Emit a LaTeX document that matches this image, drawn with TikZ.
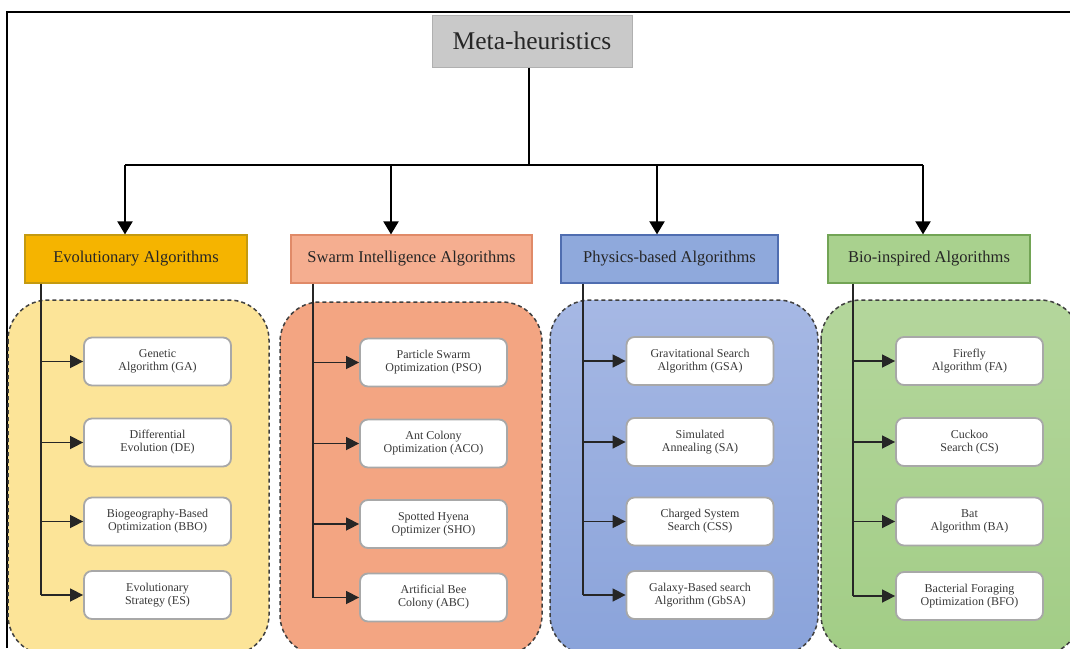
\documentclass[tikz,border=0pt]{standalone}
\usepackage{fontspec}
\setmainfont{Liberation Serif}
\usetikzlibrary{arrows.meta}
\definecolor{evofill}{HTML}{F5B400}
\definecolor{evodraw}{HTML}{C49A10}
\definecolor{evoreg}{HTML}{FCE498}
\definecolor{swfill}{HTML}{F5AE90}
\definecolor{swdraw}{HTML}{E08A68}
\definecolor{swreg}{HTML}{F3A582}
\definecolor{phfill}{HTML}{8FA9DC}
\definecolor{phdraw}{HTML}{4F6DB0}
\definecolor{phregtop}{HTML}{A6B8E4}
\definecolor{phregbot}{HTML}{8AA3DA}
\definecolor{biofill}{HTML}{A9D18E}
\definecolor{biodraw}{HTML}{72A455}
\definecolor{bioregtop}{HTML}{B4D69C}
\definecolor{bioregbot}{HTML}{A2CD86}
\definecolor{metafill}{HTML}{C9C9C9}
\definecolor{metadraw}{HTML}{B0B0B0}
\definecolor{childdraw}{HTML}{A8A8A8}
\tikzset{
  metabox/.style={draw=metadraw, fill=metafill, line width=1pt, inner sep=0pt,
    minimum width=200pt, minimum height=52pt, font=\fontsize{25.5}{27}\selectfont, text=black!85},
  catbox/.style={line width=1.2pt, inner sep=0pt, minimum height=48pt,
    font=\fontsize{16.5}{18}\selectfont, text=black!85},
  childbox/.style={draw=childdraw, fill=white, line width=1.8pt, rounded corners=8pt,
    inner sep=0pt, minimum width=147pt, minimum height=48pt, align=center,
    font=\fontsize{12}{13}\selectfont, text=black!78},
  region/.style={draw=black!75, dash pattern=on 4pt off 3pt, line width=1.5pt, rounded corners=40pt},
  trunk/.style={draw=black!85, line width=1.5pt},
  harrow/.style={draw=black!85, line width=1.5pt, -{Triangle[length=13pt,width=13pt]}},
  darrow/.style={draw=black, line width=2pt, -{Triangle[length=13pt,width=15pt]}},
  busline/.style={draw=black, line width=2.4pt},
  frameline/.style={draw=black, line width=1.3pt}
}
\begin{document}
\begin{tikzpicture}[x=1pt,y=-1pt]
\useasboundingbox (0,0) rectangle (1070,648);
\fill[white] (0,0) rectangle (1070,648);
% frame
\coordinate (fbl) at (7,648);
\coordinate (ftl) at (7,12);
\coordinate (ftr) at (1070,12);
\draw[frameline] (fbl) -- (ftl) -- (ftr);
% regions
\begin{scope}
\clip (0,0) rectangle (1070,648);
\draw[region, fill=evoreg] (8,300) rectangle (269,655);
\draw[region, fill=swreg] (280,302) rectangle (542,655);
\draw[region, top color=phregtop, bottom color=phregbot] (550,300) rectangle (818,655);
\draw[region, top color=bioregtop, bottom color=bioregbot] (821,300) rectangle (1080,655);
\end{scope}
% top
\node[metabox] (meta) at (532,41) {Meta-heuristics};
% categories
\node[catbox, draw=evodraw, fill=evofill, minimum width=222pt] (evo) at (136,259) {Evolutionary Algorithms};
\node[catbox, draw=swdraw, fill=swfill, minimum width=241pt] (swa) at (411.5,259) {Swarm Intelligence Algorithms};
\node[catbox, draw=phdraw, fill=phfill, minimum width=217pt] (phy) at (669.5,259) {Physics-based Algorithms};
\node[catbox, draw=biodraw, fill=biofill, minimum width=202pt] (bio) at (929,259) {Bio-inspired Algorithms};
% bus
\coordinate (hub) at (529,165);
\coordinate (a1) at (125,165);
\coordinate (a2) at (391,165);
\coordinate (a3) at (657,165);
\coordinate (a4) at (923,165);
\draw[busline] (meta.south -| hub) -- (hub);
\draw[busline] (a1) -- (a4);
\draw[darrow] (a1) -- (a1 |- evo.north);
\draw[darrow] (a2) -- (a2 |- swa.north);
\draw[darrow] (a3) -- (a3 |- phy.north);
\draw[darrow] (a4) -- (a4 |- bio.north);
% children column 1
\node[childbox] (e1) at (157.5,361.5) {Genetic\\Algorithm (GA)};
\node[childbox] (e2) at (157.5,442.5) {Differential\\Evolution (DE)};
\node[childbox] (e3) at (157.5,521.5) {Biogeography-Based\\Optimization (BBO)};
\node[childbox] (e4) at (157.5,595) {Evolutionary\\Strategy (ES)};
% column 2
\node[childbox] (s1) at (433.5,362.5) {Particle Swarm\\Optimization (PSO)};
\node[childbox] (s2) at (433.5,443.5) {Ant Colony\\Optimization (ACO)};
\node[childbox] (s3) at (433.5,524) {Spotted Hyena\\Optimizer (SHO)};
\node[childbox] (s4) at (433.5,597.5) {Artificial Bee\\Colony (ABC)};
% column 3
\node[childbox] (p1) at (700,361) {Gravitational Search\\Algorithm (GSA)};
\node[childbox] (p2) at (700,442) {Simulated\\Annealing (SA)};
\node[childbox] (p3) at (700,521.5) {Charged System\\Search (CSS)};
\node[childbox] (p4) at (700,595) {Galaxy-Based search\\Algorithm (GbSA)};
% column 4
\node[childbox] (b1) at (969.5,361) {Firefly\\Algorithm (FA)};
\node[childbox] (b2) at (969.5,442) {Cuckoo\\Search (CS)};
\node[childbox] (b3) at (969.5,521.5) {Bat\\Algorithm (BA)};
\node[childbox] (b4) at (969.5,596) {Bacterial Foraging\\Optimization (BFO)};
% trunks
\coordinate (t1) at (41,0);
\coordinate (t2) at (313,0);
\coordinate (t3) at (583,0);
\coordinate (t4) at (853,0);
\draw[trunk] (evo.south -| t1) -- (e4.west -| t1);
\draw[trunk] (swa.south -| t2) -- (s4.west -| t2);
\draw[trunk] (phy.south -| t3) -- (p4.west -| t3);
\draw[trunk] (bio.south -| t4) -- (b4.west -| t4);
\foreach \c/\t in {e/t1,s/t2,p/t3,b/t4}{
  \foreach \i in {1,2,3,4}{
    \draw[harrow] (\c\i.west -| \t) -- (\c\i.west);
  }
}
\end{tikzpicture}
\end{document}
